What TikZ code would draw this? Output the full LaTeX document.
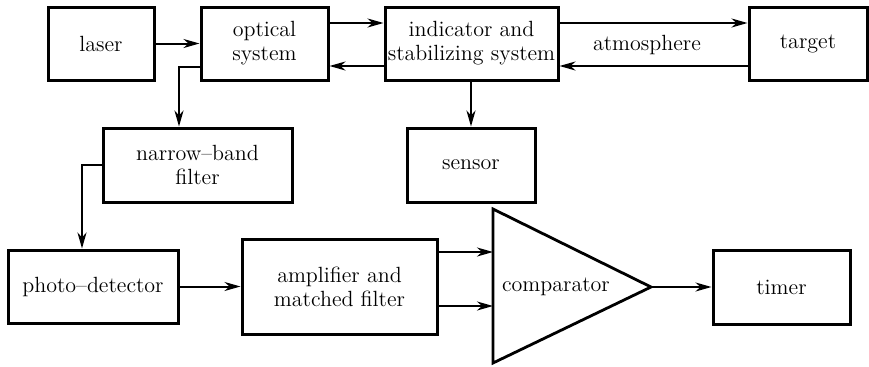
\documentclass[tikz,border=0pt]{standalone}
\usetikzlibrary{positioning,arrows.meta}

\begin{document}
\begin{tikzpicture}[x=0.5pt,y=-0.5pt,
      font=\fontsize{11}{12}\selectfont,
      every node/.style={align=center,inner sep=1pt},
      block/.style={rectangle,draw=black,line width=1.5pt,minimum height=36.5pt},
      single/.style={draw,line width=1pt,-{Stealth[length=8pt,width=4.5pt,inset=2.5pt]}},
    ]
      \useasboundingbox (0,0) rectangle (869,366);
      % top row
      \node[block,minimum width=53pt] (laser) at (101,43.5) {laser};
      \node[block,minimum width=63.5pt] (optical) at (264.5,43.5) {optical\\system};
      \node[block,minimum width=86.5pt] (indicator) at (471.5,43.5) {indicator and\\stabilizing system};
      \node[block,minimum width=59pt] (target) at (808,43.5) {target};
      \node (atmos) at (647,45) {atmosphere};
      % middle row
      \node[block,minimum width=94.5pt,minimum height=37pt] (narrow) at (197.5,165) {narrow--band\\filter};
      \node[block,minimum width=64pt,minimum height=37pt] (sensor) at (471,165) {sensor};
      % bottom row
      \node[block,minimum width=85pt] (photo) at (93,286.5) {photo--detector};
      \node[block,minimum width=97.5pt,minimum height=47.5pt] (amp) at (339.5,286.5) {amplifier and\\matched filter};
      \coordinate (cmpT) at (493,209);
      \coordinate (cmpB) at (493,363);
      \coordinate (cmpA) at (651,287);
      \draw[line width=1.4pt,line join=miter] (cmpT) -- (cmpA) -- (cmpB) -- cycle;
      \node (comp) at (556,287) {comparator};
      \node[block,minimum width=68.5pt,minimum height=37pt] (timer) at (781.5,287) {timer};
      % connections
      \path (laser) edge[single] (optical);
      \path ([yshift=10.25pt]optical.east) edge[single] ([yshift=10.25pt]indicator.west);
      \path ([yshift=-11.25pt]indicator.west) edge[single] ([yshift=-11.25pt]optical.east);
      \path ([yshift=10.25pt]indicator.east) edge[single] ([yshift=10.25pt]target.west);
      \path ([yshift=-11.25pt]target.west) edge[single] ([yshift=-11.25pt]indicator.east);
      \draw[single] (indicator.south -| sensor.north) -- (sensor.north);
      \draw[single] ([yshift=-11.75pt]optical.west) -| ([xshift=-9.25pt]narrow.north);
      \draw[single] (narrow.west) -| ([xshift=-5.5pt]photo.north);
      \path (photo) edge[single] (amp);
      \draw[single] ([yshift=17.25pt]amp.east) -- ([yshift=17.25pt]amp.east -| cmpT);
      \draw[single] ([yshift=-9.75pt]amp.east) -- ([yshift=-9.75pt]amp.east -| cmpT);
      \path (cmpA) edge[single] (timer);
    \end{tikzpicture}
\end{document}
